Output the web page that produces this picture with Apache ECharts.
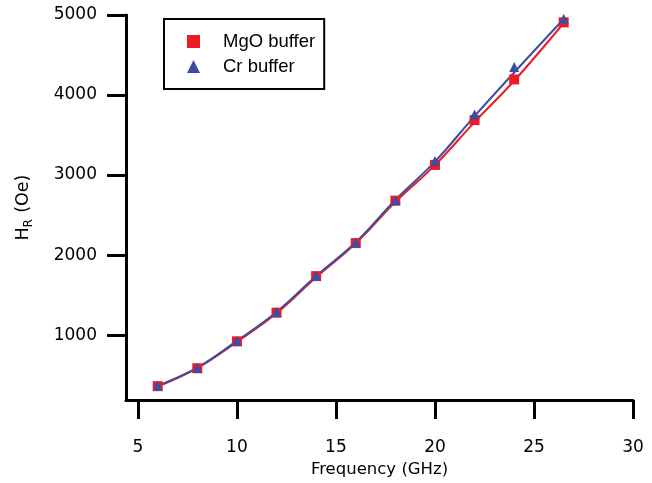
<!DOCTYPE html>
<html>
<head>
<meta charset="utf-8">
<title>HR vs frequency</title>
<script src="https://cdn.jsdelivr.net/npm/echarts@6/dist/echarts.min.js"></script>
<style>
  html, body { margin: 0; padding: 0; background: #fff; }
  #chart { width: 652px; height: 483px; }
</style>
</head>
<body>
<div id="chart"></div>
<script>
  // values
  var freq = [6, 8, 10, 12, 14, 16, 18, 20, 22, 24, 26.5];
  var mgo = [362, 586, 922, 1280, 1737, 2150, 2680, 3127, 3687, 4195, 4908];
  var cr = [370, 592, 930, 1288, 1742, 2156, 2684, 3175, 3757, 4350, 4952];
  // fitted curves
  var mgoFit = [358, 588, 915, 1272, 1722, 2148, 2662, 3124, 3662, 4178, 4900];
  var crFit = [368, 594, 928, 1288, 1740, 2160, 2690, 3168, 3736, 4282, 4950];
  var xTicks = [5, 10, 15, 20, 25, 30];
  var yTicks = [1000, 2000, 3000, 4000, 5000];

  var red = '#ec1c24';
  var blue = '#3a4fa4';

  function pairs(xs, ys) {
    var out = [];
    for (var i = 0; i < xs.length; i++) {
      out.push([xs[i], ys[i]]);
    }
    return out;
  }

  function tickLabel(values, margin) {
    return {
      customValues: values,
      margin: margin,
      color: '#000',
      fontFamily: 'DejaVu Sans',
      fontSize: 17,
      formatter: function(v) {
        return String(v);
      }
    };
  }

  var chart = echarts.init(document.getElementById('chart'));

  chart.setOption({
    animation: false,
    backgroundColor: '#fff',
    grid: {
      left: 126,
      right: 19,
      top: 15,
      bottom: 81
    },
    legend: {
      left: 164,
      top: 19,
      orient: 'vertical',
      borderColor: '#000',
      borderWidth: 2,
      borderRadius: 0,
      padding: [13, 9, 13, 23],
      itemWidth: 13,
      itemHeight: 13,
      itemGap: 6,
      textStyle: {
        color: '#000',
        fontFamily: 'Liberation Sans',
        fontSize: 18.5,
        lineHeight: 18,
        padding: [0, 0, 0, 18]
      },
      data: [
        { name: 'MgO buffer', icon: 'rect', itemStyle: { opacity: 1 } },
        { name: 'Cr buffer', icon: 'triangle', itemStyle: { opacity: 1 } }
      ]
    },
    xAxis: {
      type: 'value',
      min: 4.4,
      max: 30,
      name: 'Frequency (GHz)',
      nameLocation: 'middle',
      nameGap: 59,
      nameTextStyle: {
        color: '#000',
        fontFamily: 'DejaVu Sans',
        fontSize: 16.5
      },
      axisLine: { lineStyle: { color: '#000', width: 3 } },
      axisTick: {
        inside: false,
        length: 19,
        customValues: xTicks,
        lineStyle: { color: '#000', width: 3 }
      },
      axisLabel: tickLabel(xTicks, 39),
      splitLine: { show: false }
    },
    yAxis: {
      type: 'value',
      min: 188,
      max: 5000,
      name: '{a|H}{b|R}{a| (Oe)}',
      nameLocation: 'middle',
      nameGap: 91,
      nameTextStyle: {
        color: '#000',
        fontFamily: 'DejaVu Sans',
        rich: {
          a: { fontSize: 17.5, fontFamily: 'DejaVu Sans', color: '#000', lineHeight: 24 },
          b: { fontSize: 11.5, fontFamily: 'DejaVu Sans', color: '#000', lineHeight: 24, verticalAlign: 'bottom', padding: [0, 1, 0, 0] }
        }
      },
      axisLine: { show: true, lineStyle: { color: '#000', width: 3 } },
      axisTick: {
        show: true,
        inside: false,
        length: 19,
        customValues: yTicks,
        lineStyle: { color: '#000', width: 3 }
      },
      axisLabel: tickLabel(yTicks, 29),
      splitLine: { show: false }
    },
    series: [
      {
        name: 'MgO fit',
        type: 'line',
        smooth: 0.4,
        showSymbol: false,
        data: pairs(freq, mgoFit),
        lineStyle: { color: red, width: 2 },
        z: 1
      },
      {
        name: 'Cr fit',
        type: 'line',
        smooth: 0.4,
        showSymbol: false,
        data: pairs(freq, crFit),
        lineStyle: { color: blue, width: 2 },
        z: 2
      },
      {
        name: 'MgO buffer',
        type: 'scatter',
        symbol: 'rect',
        symbolSize: 10,
        itemStyle: { color: red, opacity: 1 },
        data: pairs(freq, mgo),
        z: 3
      },
      {
        name: 'Cr buffer',
        type: 'scatter',
        symbol: 'triangle',
        symbolSize: 10,
        itemStyle: { color: blue, opacity: 1 },
        data: pairs(freq, cr),
        z: 4
      }
    ]
  });
</script>
</body>
</html>
